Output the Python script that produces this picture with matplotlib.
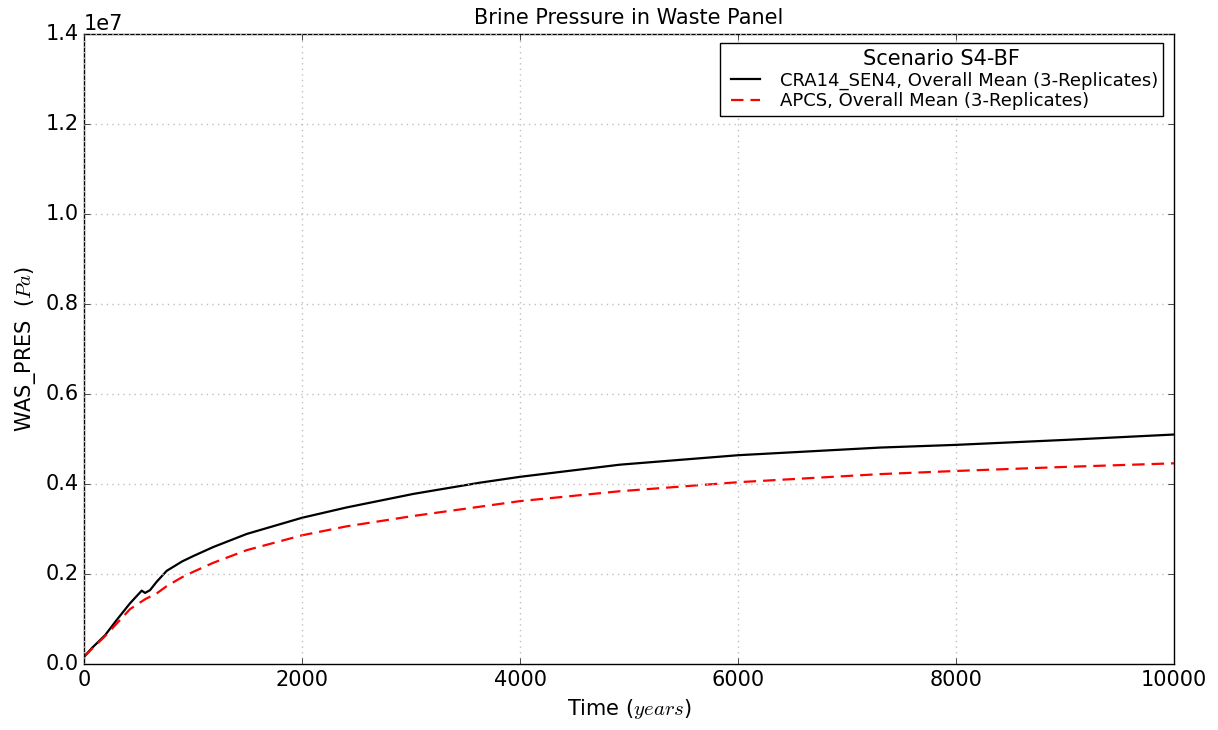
import numpy as np
import matplotlib
matplotlib.use("Agg")
import matplotlib.pyplot as plt

# values (years, Pa)
t_cra = [0, 70, 193, 300, 422, 529, 560, 605, 667, 758, 900, 1003, 1186, 1492, 2000,
         2410, 3021, 3633, 4000, 4917, 6000, 7303, 8000, 9000, 10000]
p_cra = [0.16e6, 0.35e6, 0.64e6, 0.98e6, 1.35e6, 1.63e6, 1.58e6, 1.64e6, 1.83e6, 2.07e6,
         2.28e6, 2.40e6, 2.60e6, 2.89e6, 3.25e6, 3.48e6, 3.78e6, 4.03e6, 4.16e6, 4.43e6,
         4.64e6, 4.81e6, 4.87e6, 4.98e6, 5.10e6]

t_apcs = [0, 70, 193, 300, 422, 560, 667, 758, 900, 1003, 1186, 1492, 2000, 2410, 3021,
          4000, 4917, 6000, 7303, 8000, 9000, 10000]
p_apcs = [0.16e6, 0.33e6, 0.62e6, 0.90e6, 1.22e6, 1.44e6, 1.57e6, 1.73e6, 1.93e6, 2.05e6,
          2.25e6, 2.53e6, 2.86e6, 3.06e6, 3.29e6, 3.62e6, 3.84e6, 4.04e6, 4.22e6, 4.29e6,
          4.38e6, 4.46e6]

plt.style.use('classic')
plt.rcParams['figure.facecolor'] = 'white'
plt.rcParams['savefig.facecolor'] = 'white'

fig = plt.figure(figsize=(12.18, 7.30), dpi=100)
ax = fig.add_axes([0.069, 0.0904, 0.895, 0.863])

ax.plot(t_cra, p_cra, color='k', linestyle='-', lw=1.6,
        label='CRA14_SEN4, Overall Mean (3-Replicates)')
ax.plot(t_apcs, p_apcs, color='r', linestyle='--', dashes=(9, 5), lw=1.6,
        label='APCS, Overall Mean (3-Replicates)')

ax.set_xlim(0, 10000)
ax.set_ylim(0, 1.4e7)
ax.set_xticks([0, 2000, 4000, 6000, 8000, 10000])
ax.set_yticks(np.arange(0, 1.41e7, 0.2e7))
ax.tick_params(labelsize=15)
ax.yaxis.get_offset_text().set_fontsize(15)
ax.grid(True, color='0.75', linestyle=':', lw=1.0)

ax.set_title('Brine Pressure in Waste Panel', fontsize=15, y=1.005)
ax.set_xlabel('Time ($years$)', fontsize=15)
ax.set_ylabel('WAS_PRES  ($Pa$)', fontsize=15)

leg = ax.legend(loc='upper right', title='Scenario S4-BF', fontsize=13, numpoints=2,
                labelspacing=0.15, borderpad=0.3, handlelength=2.2,
                bbox_to_anchor=(0.9985, 0.9995))
leg.get_title().set_fontsize(15)

fig.savefig('out.png', dpi=100)
